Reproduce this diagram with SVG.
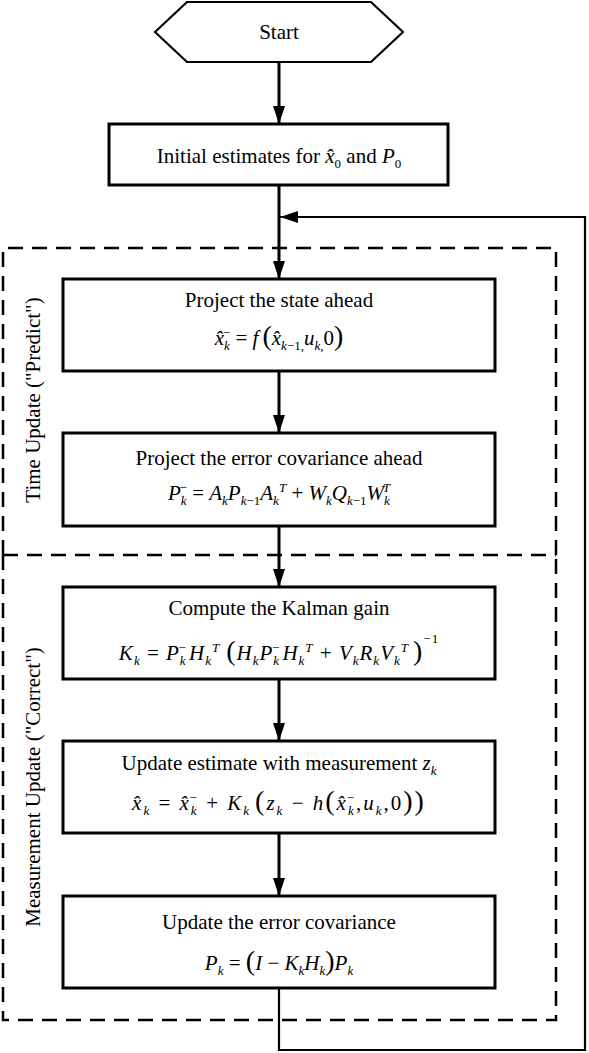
<svg xmlns="http://www.w3.org/2000/svg" width="589" height="1053" viewBox="0 0 589 1053">
<defs>
<style>
.t{font-family:"Liberation Serif","Times New Roman","DejaVu Serif",serif;font-size:21px;fill:#000;text-anchor:middle}
.i{font-style:italic}
.s{font-size:13px}
.p{font-size:28px}
.box{fill:#fff;stroke:#000;stroke-width:3}
.dash{fill:none;stroke:#000;stroke-width:2.5;stroke-dasharray:15 9}
.ln{fill:none;stroke:#000;stroke-width:3}
.ln2{fill:none;stroke:#000;stroke-width:2.2}
</style>
<marker id="ah" markerUnits="userSpaceOnUse" markerWidth="20" markerHeight="14" refX="18" refY="6" orient="auto">
<path d="M0,0 L18,6 L0,12 Z" fill="#000"/>
</marker>
</defs>
<rect width="589" height="1053" fill="#fff"/>
<g id="region-time">
<path class="dash" d="M3,555 L3,248 L556,248 L556,555"/>
<text class="t" transform="translate(40,400) rotate(-90)">Time Update ("Predict")</text>
</g>
<g id="region-measure">
<path class="dash" d="M3,555 L556,555 M3,555 L3,1020 L556,1020 L556,555"/>
<text class="t" transform="translate(40,787) rotate(-90)">Measurement Update ("Correct")</text>
</g>
<g id="connectors">
<path class="ln" d="M279,62 V124" marker-end="url(#ah)"/>
<path class="ln" d="M279,185 V279" marker-end="url(#ah)"/>
<path class="ln" d="M279,371 V433" marker-end="url(#ah)"/>
<path class="ln" d="M279,526 V587" marker-end="url(#ah)"/>
<path class="ln" d="M279,679 V741" marker-end="url(#ah)"/>
<path class="ln" d="M279,833 V896" marker-end="url(#ah)"/>
<path class="ln2" d="M279,988 V1050 H585 V217 H280" marker-end="url(#ah)"/>
</g>
<g id="start">
<path d="M155,32 L187,2 L371,2 L403,32 L371,62 L187,62 Z" fill="#fff" stroke="#000" stroke-width="2.2"/>
<text class="t" x="279" y="39">Start</text>
</g>
<g id="init">
<rect class="box" x="109" y="124" width="339" height="61"/>
<text class="t" x="279" y="163">Initial estimates for <tspan class="i">x̂</tspan><tspan class="s" dy="5">0</tspan><tspan dy="-5"> and </tspan><tspan class="i">P</tspan><tspan class="s" dy="5">0</tspan></text>
</g>
<g id="project-state">
<rect class="box" x="63" y="279" width="432" height="92"/>
<text class="t" x="279" y="307">Project the state ahead</text>
<text class="t" x="279" y="345"><tspan class="i">x̂</tspan><tspan class="s i" dy="5">k</tspan><tspan class="s" dx="-7" dy="-13">−</tspan><tspan dy="8"> = </tspan><tspan class="i">f</tspan><tspan class="p" dx="4">(</tspan><tspan class="i">x̂</tspan><tspan class="s" dy="5"><tspan class="i">k</tspan>−1,</tspan><tspan class="i" dy="-5">u</tspan><tspan class="s" dy="5"><tspan class="i">k</tspan>,</tspan><tspan dy="-5">0</tspan><tspan class="p">)</tspan></text>
</g>
<g id="project-cov">
<rect class="box" x="63" y="433" width="432" height="93"/>
<text class="t" x="279" y="465">Project the error covariance ahead</text>
<text class="t" x="279" y="500"><tspan class="i">P</tspan><tspan class="s i" dy="5">k</tspan><tspan class="s" dx="-7" dy="-13">−</tspan><tspan dy="8"> = </tspan><tspan class="i">A</tspan><tspan class="s i" dy="5">k</tspan><tspan class="i" dy="-5">P</tspan><tspan class="s" dy="5"><tspan class="i">k</tspan>−1</tspan><tspan class="i" dy="-5">A</tspan><tspan class="s i" dy="5">k</tspan><tspan class="s i" dy="-13">T</tspan><tspan dy="8"> + </tspan><tspan class="i">W</tspan><tspan class="s i" dy="5">k</tspan><tspan class="i" dy="-5">Q</tspan><tspan class="s" dy="5"><tspan class="i">k</tspan>−1</tspan><tspan class="i" dy="-5">W</tspan><tspan class="s i" dy="5">k</tspan><tspan class="s i" dx="-7" dy="-13">T</tspan></text>
</g>
<g id="kalman-gain">
<rect class="box" x="63" y="587" width="432" height="92"/>
<text class="t" x="279" y="615">Compute the Kalman gain</text>
<text class="t" x="279" y="660" letter-spacing="1"><tspan class="i">K</tspan><tspan class="s i" dy="5">k</tspan><tspan dy="-5"> = </tspan><tspan class="i">P</tspan><tspan class="s i" dy="5">k</tspan><tspan class="s" dx="-8" dy="-13">−</tspan><tspan class="i" dy="8" dx="2">H</tspan><tspan class="s i" dy="5">k</tspan><tspan class="s i" dy="-13">T</tspan><tspan class="p" dx="6" dy="8">(</tspan><tspan class="i">H</tspan><tspan class="s i" dy="5">k</tspan><tspan class="i" dy="-5">P</tspan><tspan class="s i" dy="5">k</tspan><tspan class="s" dx="-8" dy="-13">−</tspan><tspan class="i" dy="8" dx="2">H</tspan><tspan class="s i" dy="5">k</tspan><tspan class="s i" dy="-13">T</tspan><tspan dy="8"> + </tspan><tspan class="i">V</tspan><tspan class="s i" dy="5">k</tspan><tspan class="i" dy="-5">R</tspan><tspan class="s i" dy="5">k</tspan><tspan class="i" dy="-5">V</tspan><tspan class="s i" dy="5">k</tspan><tspan class="s i" dy="-13">T</tspan><tspan class="p" dx="4" dy="8">)</tspan><tspan class="s" dy="-17">−1</tspan></text>
</g>
<g id="update-estimate">
<rect class="box" x="63" y="741" width="432" height="92"/>
<text class="t" x="279" y="770">Update estimate with measurement <tspan class="i">z</tspan><tspan class="s i" dy="5">k</tspan></text>
<text class="t" x="279" y="810" letter-spacing="2"><tspan class="i">x̂</tspan><tspan class="s i" dy="5">k</tspan><tspan dy="-5"> = </tspan><tspan class="i">x̂</tspan><tspan class="s i" dy="5">k</tspan><tspan class="s" dx="-9" dy="-13">−</tspan><tspan dy="8"> + </tspan><tspan class="i">K</tspan><tspan class="s i" dy="5">k</tspan><tspan class="p" dx="4" dy="-5">(</tspan><tspan class="i">z</tspan><tspan class="s i" dy="5">k</tspan><tspan dy="-5"> − </tspan><tspan class="i">h</tspan><tspan class="p">(</tspan><tspan class="i">x̂</tspan><tspan class="s i" dy="5">k</tspan><tspan class="s" dx="-9" dy="-13">−</tspan><tspan dy="8">,</tspan><tspan class="i">u</tspan><tspan class="s i" dy="5">k</tspan><tspan dy="-5">,0</tspan><tspan class="p">))</tspan></text>
</g>
<g id="update-cov">
<rect class="box" x="63" y="896" width="432" height="92"/>
<text class="t" x="279" y="929">Update the error covariance</text>
<text class="t" x="279" y="970"><tspan class="i">P</tspan><tspan class="s i" dy="5">k</tspan><tspan dy="-5"> = </tspan><tspan class="p">(</tspan><tspan class="i">I</tspan><tspan> − </tspan><tspan class="i">K</tspan><tspan class="s i" dy="5">k</tspan><tspan class="i" dy="-5">H</tspan><tspan class="s i" dy="5">k</tspan><tspan class="p" dy="-5">)</tspan><tspan class="i">P</tspan><tspan class="s i" dy="5">k</tspan></text>
</g>
</svg>
